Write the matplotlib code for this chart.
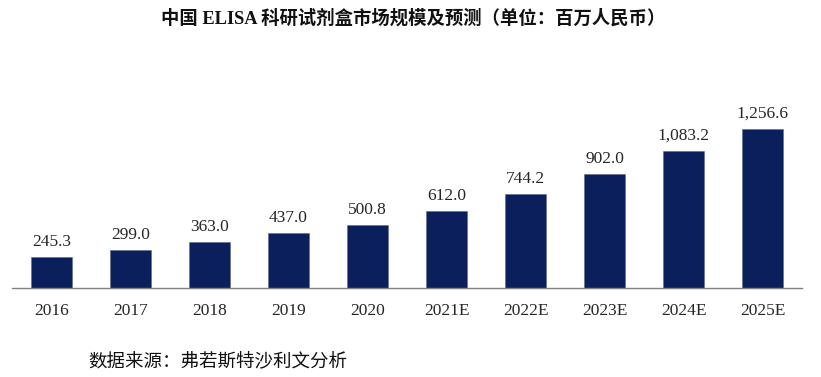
import matplotlib
matplotlib.use("Agg")
import matplotlib.pyplot as plt

categories = ["2016", "2017", "2018", "2019", "2020", "2021E", "2022E", "2023E", "2024E", "2025E"]
values = [245.3, 299.0, 363.0, 437.0, 500.8, 612.0, 744.2, 902.0, 1083.2, 1256.6]
value_labels = ["245.3", "299.0", "363.0", "437.0", "500.8", "612.0", "744.2", "902.0", "1,083.2", "1,256.6"]
title = "中国 ELISA 科研试剂盒市场规模及预测（单位：百万人民币）"
source = "数据来源：弗若斯特沙利文分析"

fam = ["Liberation Serif", "Noto Sans CJK SC", "DejaVu Sans"]
plt.rcParams["font.family"] = fam

W, H = 821, 377
fig = plt.figure(figsize=(W / 100, H / 100), dpi=100)
ax = fig.add_axes([12 / W, (H - 288) / H, (802 - 12) / W, (288 - 60) / H])

x = list(range(len(categories)))
bars = ax.bar(x, values, width=0.51, color="#0B1F5C", edgecolor="#5a6a90", linewidth=0.4)
ax.set_xlim(-0.5, len(categories) - 0.5)
ax.set_ylim(0, 228 / 0.1265)

for xi, v, lab in zip(x, values, value_labels):
    ax.annotate(lab, (xi, v), xytext=(0, 5), textcoords="offset points",
                ha="center", va="bottom", fontsize=12.5, color="#262626")

ax.set_xticks(x)
ax.set_xticklabels(categories, fontsize=12.5, color="#262626")
ax.tick_params(axis="x", length=0, pad=11)
ax.set_yticks([])
for s in ["top", "right", "left"]:
    ax.spines[s].set_visible(False)
ax.spines["bottom"].set_color("#808080")
ax.spines["bottom"].set_linewidth(1.0)

fig.text(413 / W, 1 - 18 / H, title, ha="center", va="center", fontsize=13.2,
         fontweight="bold", color="#111111")
fig.text(88 / W, 1 - 361 / H, source, ha="left", va="center", fontsize=13.3,
         color="#111111")

fig.savefig("out.png", dpi=100)
